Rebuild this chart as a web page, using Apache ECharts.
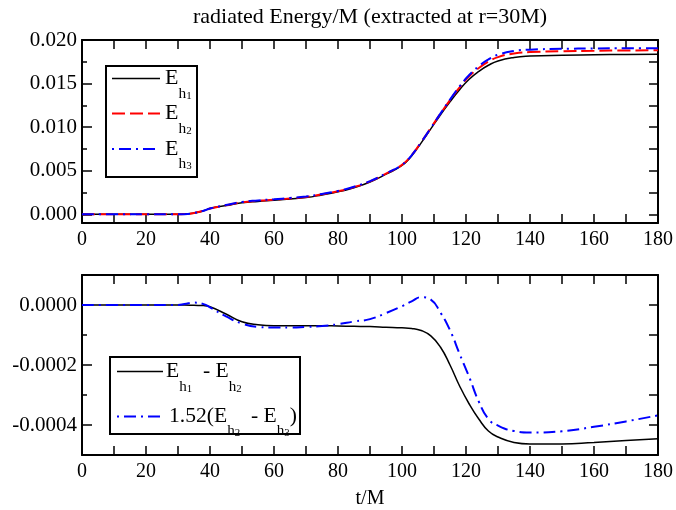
<!DOCTYPE html>
<html>
<head>
<meta charset="utf-8">
<title>radiated energy</title>
<script src="https://cdn.jsdelivr.net/npm/echarts@6/dist/echarts.min.js"></script>
</head>
<body style="margin:0">
<div id="main" style="width:676px;height:510px"></div>
<script type="text/javascript">
// time samples (t/M)
var tValues = [0, 10, 20, 30, 32, 35, 38, 40, 45, 50, 55, 60, 65, 70, 75, 80, 85, 90, 95, 100,
	103, 106, 109, 112, 115, 118, 121, 124, 127, 130, 135, 140, 150, 160, 170, 180];

// top panel: radiated energy
var eh1 = [0, 0, 0, 0, 0.00002, 0.00015, 0.0004, 0.00066, 0.001, 0.00132, 0.00148, 0.0016, 0.00175, 0.00192,
	0.00222, 0.00257, 0.00305, 0.0037, 0.0046, 0.0056, 0.0067, 0.0082, 0.0098, 0.0114, 0.0129, 0.0143,
	0.0155, 0.0164, 0.0171, 0.0176, 0.018, 0.01815, 0.01825, 0.0183, 0.01835, 0.01837];
var eh2 = [0, 0, 0, 0, 0.00002, 0.000151, 0.000402, 0.000666, 0.00103, 0.001376, 0.001546, 0.001669, 0.001819,
	0.001989, 0.002289, 0.00264, 0.003121, 0.003772, 0.004674, 0.005676, 0.006778, 0.008285, 0.009903,
	0.01154, 0.0131, 0.01457, 0.01583, 0.01678, 0.01752, 0.01804, 0.018458, 0.018613, 0.018713, 0.018758,
	0.018802, 0.018816];
var eh3 = [0, 0, 0, 0, 0.000018, 0.000146, 0.0004, 0.000671, 0.001055, 0.001417, 0.001594, 0.001718, 0.001868,
	0.002037, 0.002335, 0.002682, 0.003157, 0.003803, 0.004692, 0.005679, 0.00677, 0.008268, 0.009891,
	0.011556, 0.013155, 0.014677, 0.015988, 0.016992, 0.01777, 0.018304, 0.018734, 0.018893, 0.01899,
	0.019025, 0.019057, 0.019058];

// bottom panel: differences
var diff12 = [0, 0, 0, 0, 0, -0.000001, -0.000002, -0.000006, -0.00003, -0.000056, -0.000066, -0.000069,
	-0.000069, -0.000069, -0.000069, -0.00007, -0.000071, -0.000072, -0.000074, -0.000076, -0.000078,
	-0.000085, -0.000103, -0.00014, -0.0002, -0.00027, -0.00033, -0.00038, -0.00042, -0.00044, -0.000458,
	-0.000463, -0.000463, -0.000458, -0.000452, -0.000446];
var diff23 = [0, 0, 0, 0, 0.000003, 0.000008, 0.000003, -0.000008, -0.000038, -0.000062, -0.000073, -0.000075,
	-0.000075, -0.000073, -0.00007, -0.000064, -0.000055, -0.000047, -0.000027, -0.000004, 0.000012,
	0.000026, 0.000018, -0.000025, -0.000084, -0.000163, -0.00024, -0.000322, -0.00038, -0.000402,
	-0.00042, -0.000425, -0.000421, -0.000406, -0.000388, -0.000368];

// tick positions
var topLabels = [0, 0.005, 0.01, 0.015, 0.02];
var topMinor = [0.0025, 0.0075, 0.0125, 0.0175];
var topAll = [0, 0.0025, 0.005, 0.0075, 0.01, 0.0125, 0.015, 0.0175, 0.02];
var botLabels = [0, -0.0002, -0.0004];
var botMinor = [-0.0001, -0.0003];
var botAll = [0, -0.0001, -0.0002, -0.0003, -0.0004];

var FONT = 'Liberation Serif';
var dashRed = [13, 5];
var dashBlue = [12, 5, 2, 5];

function pairs(ys) {
	return tValues.map(function(t, i) { return [t, ys[i]]; });
}

function xAx(grid, pos, labels) {
	return {
		type: 'value', gridIndex: grid, position: pos, min: 0, max: 180, interval: 10,
		axisLine: { onZero: false, lineStyle: { color: '#000', width: 2 } },
		axisTick: { inside: true, length: 9, lineStyle: { color: '#000', width: 1.5 } },
		axisLabel: {
			show: labels, margin: 7, color: '#000', fontFamily: FONT, fontSize: 20,
			formatter: function(v) { return v % 20 === 0 ? String(v) : ''; }
		},
		splitLine: { show: false }
	};
}

function yAx(grid, pos, min, max, ticks, len, opts) {
	var a = {
		type: 'value', gridIndex: grid, position: pos, min: min, max: max,
		axisLine: { show: opts.line, onZero: false, lineStyle: { color: '#000', width: 2 } },
		axisTick: { inside: true, length: len, customValues: ticks, lineStyle: { color: '#000', width: 1.5 } },
		axisLabel: { show: false },
		splitLine: { show: false }
	};
	if (opts.labels) {
		a.axisLabel = {
			show: true, customValues: opts.labels, margin: 5, color: '#000', fontFamily: FONT, fontSize: 21,
			formatter: function(v) { return v.toFixed(opts.digits); }
		};
	}
	return a;
}

var xb = xAx(1, 'bottom', true);
xb.name = 't/M';
xb.nameLocation = 'middle';
xb.nameGap = 34;
xb.nameTextStyle = { color: '#000', fontFamily: FONT, fontSize: 20 };

var rich = {
	e: { fontFamily: FONT, fontSize: 20, lineHeight: 44, color: '#000' },
	h: { fontFamily: FONT, fontSize: 14, lineHeight: 16, verticalAlign: 'bottom', color: '#000' },
	s: { fontFamily: FONT, fontSize: 10, lineHeight: 1, verticalAlign: 'bottom', color: '#000' }
};

function legText(x, y, txt, sx) {
	return { type: 'text', x: x, y: y, z: 100, scaleX: sx || 1,
		style: { text: txt, rich: rich, align: 'left', verticalAlign: 'middle' } };
}
function legLine(x1, x2, y, color, width, dash) {
	return { type: 'line', z: 100, shape: { x1: x1, y1: y, x2: x2, y2: y },
		style: { stroke: color, lineWidth: width, lineDash: dash } };
}
function legBox(x, y, w, h) {
	return { type: 'rect', z: 99, shape: { x: x, y: y, width: w, height: h },
		style: { fill: '#fff', stroke: '#000', lineWidth: 2 } };
}

var myChart = echarts.init(document.getElementById('main'));

var option = {
	backgroundColor: '#fff',
	animation: false,
	grid: [
		{ left: 82, right: 18, top: 40, height: 183 },
		{ left: 82, right: 18, top: 275, height: 183 }
	],
	xAxis: [xAx(0, 'bottom', true), xAx(0, 'top', false), xb, xAx(1, 'top', false)],
	yAxis: [
		yAx(0, 'left', -0.001, 0.02, topLabels, 10, { line: true, labels: topLabels, digits: 3 }),
		yAx(0, 'left', -0.001, 0.02, topMinor, 5, { line: false }),
		yAx(0, 'right', -0.001, 0.02, topAll, 9, { line: true }),
		yAx(1, 'left', -0.0005, 0.0001, botLabels, 10, { line: true, labels: botLabels, digits: 4 }),
		yAx(1, 'left', -0.0005, 0.0001, botMinor, 5, { line: false }),
		yAx(1, 'right', -0.0005, 0.0001, botAll, 9, { line: true })
	],
	series: [
		{ name: 'Eh1', type: 'line', xAxisIndex: 0, yAxisIndex: 0, data: pairs(eh1), showSymbol: false,
			smooth: 0.5, lineStyle: { color: '#000', width: 1.5 } },
		{ name: 'Eh2', type: 'line', xAxisIndex: 0, yAxisIndex: 0, data: pairs(eh2), showSymbol: false,
			smooth: 0.5, lineStyle: { color: '#ff0000', width: 2, type: dashRed } },
		{ name: 'Eh3', type: 'line', xAxisIndex: 0, yAxisIndex: 0, data: pairs(eh3), showSymbol: false,
			smooth: 0.5, lineStyle: { color: '#0000ff', width: 2, type: dashBlue } },
		{ name: 'Eh1 - Eh2', type: 'line', xAxisIndex: 2, yAxisIndex: 3, data: pairs(diff12), showSymbol: false,
			smooth: 0.5, lineStyle: { color: '#000', width: 1.5 } },
		{ name: '1.52(Eh2 - Eh3)', type: 'line', xAxisIndex: 2, yAxisIndex: 3, data: pairs(diff23), showSymbol: false,
			smooth: 0.5, lineStyle: { color: '#0000ff', width: 2, type: dashBlue } }
	],
	graphic: [
		{ type: 'text', x: 370, y: 17, style: { text: 'radiated Energy/M (extracted at r=30M)', align: 'center',
			verticalAlign: 'middle', fontFamily: FONT, fontSize: 22, fill: '#000' } },
		// top legend
		legBox(106, 66, 91, 111),
		legLine(112, 160, 78.5, '#000', 1.5, null),
		legLine(112, 160, 113.5, '#ff0000', 2, dashRed),
		legLine(112, 160, 149, '#0000ff', 2, [2, 5, 12, 5]),
		legText(165, 79, '{e|E}{h|h}{s|1}', 1.1),
		legText(165, 114, '{e|E}{h|h}{s|2}', 1.1),
		legText(165, 149.5, '{e|E}{h|h}{s|3}', 1.1),
		// bottom legend
		legBox(110, 357, 190, 77),
		legLine(117, 163, 371.5, '#000', 1.5, null),
		legLine(117, 163, 416.5, '#0000ff', 2, [2, 5, 12, 5]),
		legText(166, 372, '{e|E}{h|h}{s|1}{e|  - E}{h|h}{s|2}', 1.08),
		legText(169, 416.5, '{e|1.52(E}{h|h}{s|2}{e|  - E}{h|h}{s|3}{e|)}', 1.08)
	]
};

myChart.setOption(option);
</script>
</body>
</html>
